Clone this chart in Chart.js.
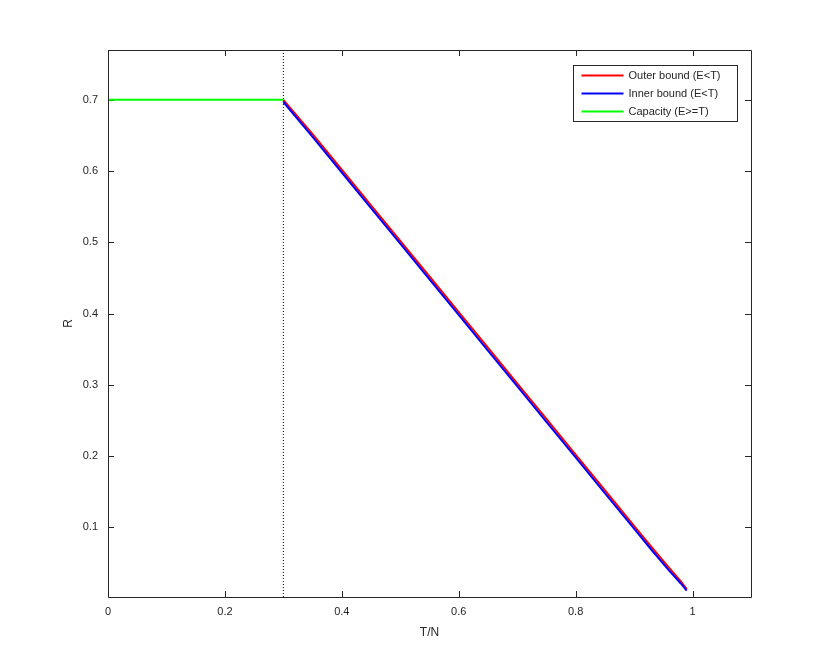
<!DOCTYPE html>
<html>
<head>
<meta charset="utf-8">
<script src="https://cdn.jsdelivr.net/npm/chart.js@4/dist/chart.umd.min.js"></script>
<style>
  html, body { margin: 0; padding: 0; background: #fff; }
  #wrap { width: 830px; height: 671px; }
</style>
</head>
<body>
<div id="wrap"><canvas id="chart" width="830" height="671"></canvas></div>
<script>
// data
const boundX = [0.30, 0.35, 0.40, 0.45, 0.50, 0.55, 0.60, 0.65, 0.70, 0.75, 0.80, 0.85, 0.90, 0.93, 0.96, 0.98, 0.99];
const outerR = [0.700, 0.652, 0.602, 0.552, 0.502, 0.452, 0.402, 0.352, 0.302, 0.252, 0.202, 0.152, 0.102, 0.072, 0.043, 0.024, 0.013];
const innerR = [0.697, 0.648, 0.598, 0.548, 0.498, 0.448, 0.398, 0.348, 0.298, 0.248, 0.198, 0.148, 0.098, 0.068, 0.039, 0.021, 0.011];
const capX = [0, 0.3];
const capR = [0.7, 0.7];
const thresholdX = 0.3;

const xTicks = [0, 0.2, 0.4, 0.6, 0.8, 1];
const yTicks = [0.1, 0.2, 0.3, 0.4, 0.5, 0.6, 0.7];
const xRange = [0, 1.1];
const yRange = [0.002, 0.77];

const seriesNames = ["Outer bound (E<T)", "Inner bound (E<T)", "Capacity (E>=T)"];
const xTitle = "T/N";
const yTitle = "R";

function pts(xs, ys) {
    return xs.map((x, i) => ({ x: x, y: ys[i] }));
}

const textColor = "#262626";
const font = "Liberation Sans, Arial, Helvetica, sans-serif";

// MATLAB style frame with inward ticks on all sides, legend and axis titles
const framePlugin = {
    id: "frame",
    beforeDatasetsDraw(chart) {
        const { ctx, chartArea: a, scales } = chart;
        ctx.save();
        ctx.strokeStyle = textColor;
        ctx.lineWidth = 1;
        const len = 6;
        ctx.beginPath();
        xTicks.forEach(v => {
            const px = Math.round(scales.x.getPixelForValue(v)) + 0.5;
            ctx.moveTo(px, a.bottom); ctx.lineTo(px, a.bottom - len);
            ctx.moveTo(px, a.top); ctx.lineTo(px, a.top + len);
        });
        yTicks.forEach(v => {
            const py = Math.round(scales.y.getPixelForValue(v)) + 0.5;
            ctx.moveTo(a.left, py); ctx.lineTo(a.left + len, py);
            ctx.moveTo(a.right, py); ctx.lineTo(a.right - len, py);
        });
        ctx.stroke();
        ctx.restore();
    },
    afterDraw(chart) {
        const { ctx, chartArea: a } = chart;
        ctx.save();
        ctx.strokeStyle = textColor;
        ctx.lineWidth = 1;
        ctx.beginPath();
        ctx.rect(Math.round(a.left) + 0.5, Math.round(a.top) + 0.5,
                 Math.round(a.right - a.left), Math.round(a.bottom - a.top));
        ctx.stroke();

        // axis titles
        ctx.fillStyle = textColor;
        ctx.font = "12px " + font;
        ctx.textAlign = "center";
        ctx.textBaseline = "middle";
        ctx.fillText(xTitle, (a.left + a.right) / 2, a.bottom + 36);
        ctx.save();
        ctx.translate(a.left - 39, (a.top + a.bottom) / 2);
        ctx.rotate(-Math.PI / 2);
        ctx.fillText(yTitle, 0, 0);
        ctx.restore();

        // legend box
        const bx = 573.5, by = 65.5, bw = 164, bh = 56;
        ctx.fillStyle = "#fff";
        ctx.fillRect(bx, by, bw, bh);
        ctx.strokeStyle = textColor;
        ctx.strokeRect(bx, by, bw, bh);
        ctx.font = "11px " + font;
        ctx.textBaseline = "middle";
        ctx.textAlign = "left";
        chart.data.datasets.slice(0, 3).forEach((ds, i) => {
            const y = by + 10 + i * 18;
            ctx.strokeStyle = ds.borderColor;
            ctx.lineWidth = 2;
            ctx.beginPath();
            ctx.moveTo(bx + 8, y); ctx.lineTo(bx + 50, y);
            ctx.stroke();
            ctx.fillStyle = textColor;
            ctx.fillText(ds.label, bx + 55, y);
        });
        ctx.restore();
    }
};

new Chart(document.getElementById("chart").getContext("2d"), {
    type: "line",
    data: {
        datasets: [
            {
                label: seriesNames[0],
                data: pts(boundX, outerR),
                borderColor: "#ff0000",
                borderWidth: 2,
                pointRadius: 0,
                order: 3
            },
            {
                label: seriesNames[1],
                data: pts(boundX, innerR),
                borderColor: "#0000ff",
                borderWidth: 2,
                pointRadius: 0,
                order: 2
            },
            {
                label: seriesNames[2],
                data: pts(capX, capR),
                borderColor: "#00ff00",
                borderWidth: 2,
                pointRadius: 0,
                order: 1
            },
            {
                label: "threshold",
                data: [{ x: thresholdX, y: yRange[0] }, { x: thresholdX, y: yRange[1] }],
                borderColor: "#000000",
                borderWidth: 1,
                borderDash: [1, 2],
                pointRadius: 0,
                order: 4
            }
        ]
    },
    options: {
        responsive: false,
        animation: false,
        layout: { padding: { left: 0, top: 50, right: 79, bottom: 0 } },
        plugins: {
            legend: { display: false },
            tooltip: { enabled: false }
        },
        scales: {
            x: {
                type: "linear",
                min: xRange[0],
                max: xRange[1],
                afterFit(s) { s.height = 74; },
                afterBuildTicks(s) { s.ticks = xTicks.map(v => ({ value: v })); },
                grid: { display: false, drawTicks: false },
                border: { display: false },
                ticks: {
                    padding: 8,
                    color: textColor,
                    font: { family: font, size: 11 },
                    callback: v => String(v)
                }
            },
            y: {
                type: "linear",
                min: yRange[0],
                max: yRange[1],
                afterFit(s) { s.width = 108; },
                afterBuildTicks(s) { s.ticks = yTicks.map(v => ({ value: v })); },
                grid: { display: false, drawTicks: false },
                border: { display: false },
                ticks: {
                    padding: 10,
                    color: textColor,
                    font: { family: font, size: 11 },
                    callback: v => String(v)
                }
            }
        }
    },
    plugins: [framePlugin]
});
</script>
</body>
</html>
